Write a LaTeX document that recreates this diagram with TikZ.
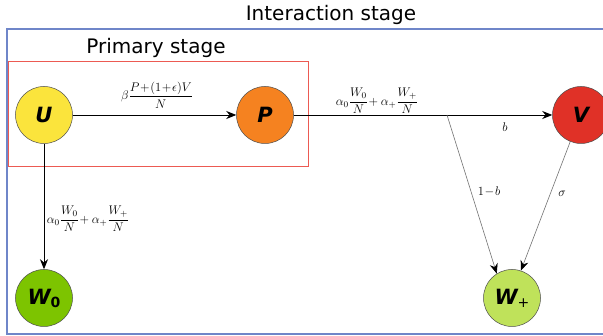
\documentclass[tikz,border=0pt]{standalone}
\usepackage{amsmath}
\usepackage{fix-cm}
\usepackage{fontspec}
\newfontfamily\dvs{DejaVu Sans}
\usetikzlibrary{arrows.meta}
\definecolor{cU}{HTML}{FBE43C}
\definecolor{cP}{HTML}{F58220}
\definecolor{cV}{HTML}{E03127}
\definecolor{cW}{HTML}{7DC400}
\definecolor{cWp}{HTML}{BFE25A}
\definecolor{cRed}{HTML}{EC5A52}
\definecolor{cBlue}{HTML}{6F86C9}
\begin{document}
\begin{tikzpicture}[x=1pt,y=-1pt,
  state/.style={circle,draw=black!70,line width=0.5pt,minimum size=57pt,inner sep=0pt,
    font=\dvs\bfseries\itshape\fontsize{21}{21}\selectfont},
  title/.style={font=\dvs\fontsize{20}{20}\selectfont,inner sep=0pt},
  lbl/.style={font=\fontsize{12.5}{12.5}\selectfont,inner sep=0pt},
  arr/.style={-{Stealth[length=10pt,width=8pt]},line width=0.8pt},
  garr/.style={draw=black!55,line width=0.6pt,-{Stealth[length=10pt,width=8pt,color=black,fill=black]}}]
\clip (0,0) rectangle (603,336);
\useasboundingbox (0,0) rectangle (603,336);
\fill[white] (0,0) rectangle (603,336);
% boxes
\draw[cBlue,line width=1.2pt] (7,29) rectangle (640,334);
\draw[cRed,line width=1pt] (8,62) rectangle (308,167);
\node[title] (it) at (331,15) {Interaction stage};
\node[title] (pt) at (156,48) {Primary stage};
% states
\node[state,fill=cU] (U) at (44,115) {U};
\node[state,fill=cP] (P) at (265,115) {P};
\node[state,fill=cV] (V) at (581,115) {V};
\node[state,fill=cW] (W0) at (44,298) {W\raisebox{-3pt}{\fontsize{14}{14}\selectfont\upshape 0}};
\node[state,fill=cWp] (Wp) at (512,298) {W\raisebox{-3pt}{\fontsize{14}{14}\selectfont\mdseries\upshape +}};
\coordinate (br) at (447,115);
% connectors
\draw[arr] (U) -- (P);
\draw[arr] (P) -- (V);
\draw[arr] (U) -- (W0);
\draw[garr] (br) -- (Wp.122);
\draw[garr] (V.-112) -- (Wp.72);
% labels
\node[lbl] (l1) at (157,95) {$\beta\dfrac{P\!+\!(1\!+\!\epsilon)V}{N}$};
\node[lbl] (l2) at (377,101) {$\alpha_0\dfrac{W_0}{N}\!+\alpha_+\dfrac{W_+}{N}$};
\node[lbl] (l3) at (88,219) {$\alpha_0\dfrac{W_0}{N}\!+\alpha_+\dfrac{W_+}{N}$};
\node[lbl] (lb) at (505,127) {$b$};
\node[lbl] (l1b) at (489,192) {$1\!-\!b$};
\node[lbl] (ls) at (562,194) {$\sigma$};
\end{tikzpicture}
\end{document}
